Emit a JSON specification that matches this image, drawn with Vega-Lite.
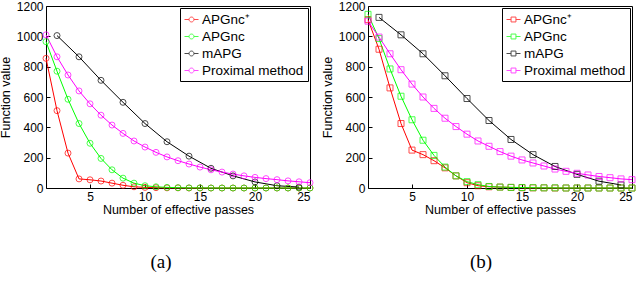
{
  "$schema": "https://vega.github.io/schema/vega-lite/v6.json",
  "autosize": {"type": "pad"},
  "padding": {"left": -2, "top": -1, "right": 0, "bottom": 0},
  "background": "white",
  "spacing": 58,
  "bounds": "flush",
  "config": {
    "view": {"stroke": "black", "strokeWidth": 1},
    "axis": {
      "labelFont": "Liberation Sans", "labelFontSize": 12, "labelColor": "black",
      "titleFont": "Liberation Sans", "titleFontSize": 12.5, "titleFontWeight": "normal", "titleColor": "black",
      "domain": false, "grid": false, "tickColor": "black", "tickSize": -4, "labelPadding": 7
    },
    "legend": {
      "orient": "top-right", "offset": 2, "strokeColor": "black", "fillColor": "white",
      "padding": 4, "labelFont": "Liberation Sans", "labelFontSize": 13.5, "labelColor": "black",
      "rowPadding": 3, "symbolSize": 196, "symbolStrokeWidth": 1, "labelOffset": 3, "title": null
    },
    "title": {"font": "Liberation Serif", "fontSize": 19, "fontWeight": "normal", "color": "black", "orient": "bottom", "offset": 37}
  },
  "datasets": {
    "a": [
      {"m": "APGnc⁺", "x": 1, "y": 855}, {"m": "APGnc⁺", "x": 2, "y": 510}, {"m": "APGnc⁺", "x": 3, "y": 230}, {"m": "APGnc⁺", "x": 4, "y": 60}, {"m": "APGnc⁺", "x": 5, "y": 54}, {"m": "APGnc⁺", "x": 6, "y": 46}, {"m": "APGnc⁺", "x": 7, "y": 32}, {"m": "APGnc⁺", "x": 8, "y": 18}, {"m": "APGnc⁺", "x": 9, "y": 8}, {"m": "APGnc⁺", "x": 10, "y": 4}, {"m": "APGnc⁺", "x": 11, "y": 2}, {"m": "APGnc⁺", "x": 12, "y": 1}, {"m": "APGnc⁺", "x": 13, "y": 1}, {"m": "APGnc⁺", "x": 14, "y": 0}, {"m": "APGnc⁺", "x": 15, "y": 0}, {"m": "APGnc⁺", "x": 16, "y": 0}, {"m": "APGnc⁺", "x": 17, "y": 0}, {"m": "APGnc⁺", "x": 18, "y": 0}, {"m": "APGnc⁺", "x": 19, "y": 0}, {"m": "APGnc⁺", "x": 20, "y": 0}, {"m": "APGnc⁺", "x": 21, "y": 0}, {"m": "APGnc⁺", "x": 22, "y": 0}, {"m": "APGnc⁺", "x": 23, "y": 0}, {"m": "APGnc⁺", "x": 24, "y": 0}, {"m": "APGnc⁺", "x": 25, "y": 0},
      {"m": "APGnc", "x": 1, "y": 965}, {"m": "APGnc", "x": 2, "y": 770}, {"m": "APGnc", "x": 3, "y": 585}, {"m": "APGnc", "x": 4, "y": 425}, {"m": "APGnc", "x": 5, "y": 295}, {"m": "APGnc", "x": 6, "y": 195}, {"m": "APGnc", "x": 7, "y": 120}, {"m": "APGnc", "x": 8, "y": 65}, {"m": "APGnc", "x": 9, "y": 32}, {"m": "APGnc", "x": 10, "y": 15}, {"m": "APGnc", "x": 11, "y": 8}, {"m": "APGnc", "x": 12, "y": 4}, {"m": "APGnc", "x": 13, "y": 2}, {"m": "APGnc", "x": 14, "y": 1}, {"m": "APGnc", "x": 15, "y": 1}, {"m": "APGnc", "x": 16, "y": 0}, {"m": "APGnc", "x": 17, "y": 0}, {"m": "APGnc", "x": 18, "y": 0}, {"m": "APGnc", "x": 19, "y": 0}, {"m": "APGnc", "x": 20, "y": 0}, {"m": "APGnc", "x": 21, "y": 0}, {"m": "APGnc", "x": 22, "y": 0}, {"m": "APGnc", "x": 23, "y": 0}, {"m": "APGnc", "x": 24, "y": 0}, {"m": "APGnc", "x": 25, "y": 0},
      {"m": "mAPG", "x": 2, "y": 1005}, {"m": "mAPG", "x": 4, "y": 865}, {"m": "mAPG", "x": 6, "y": 710}, {"m": "mAPG", "x": 8, "y": 565}, {"m": "mAPG", "x": 10, "y": 425}, {"m": "mAPG", "x": 12, "y": 305}, {"m": "mAPG", "x": 14, "y": 210}, {"m": "mAPG", "x": 16, "y": 130}, {"m": "mAPG", "x": 18, "y": 80}, {"m": "mAPG", "x": 20, "y": 40}, {"m": "mAPG", "x": 22, "y": 15}, {"m": "mAPG", "x": 24, "y": 6},
      {"m": "Proximal method", "x": 1, "y": 1010}, {"m": "Proximal method", "x": 2, "y": 865}, {"m": "Proximal method", "x": 3, "y": 745}, {"m": "Proximal method", "x": 4, "y": 640}, {"m": "Proximal method", "x": 5, "y": 555}, {"m": "Proximal method", "x": 6, "y": 480}, {"m": "Proximal method", "x": 7, "y": 415}, {"m": "Proximal method", "x": 8, "y": 360}, {"m": "Proximal method", "x": 9, "y": 310}, {"m": "Proximal method", "x": 10, "y": 270}, {"m": "Proximal method", "x": 11, "y": 235}, {"m": "Proximal method", "x": 12, "y": 205}, {"m": "Proximal method", "x": 13, "y": 180}, {"m": "Proximal method", "x": 14, "y": 158}, {"m": "Proximal method", "x": 15, "y": 138}, {"m": "Proximal method", "x": 16, "y": 120}, {"m": "Proximal method", "x": 17, "y": 105}, {"m": "Proximal method", "x": 18, "y": 92}, {"m": "Proximal method", "x": 19, "y": 80}, {"m": "Proximal method", "x": 20, "y": 70}, {"m": "Proximal method", "x": 21, "y": 62}, {"m": "Proximal method", "x": 22, "y": 55}, {"m": "Proximal method", "x": 23, "y": 47}, {"m": "Proximal method", "x": 24, "y": 41}, {"m": "Proximal method", "x": 25, "y": 35}
    ],
    "b": [
      {"m": "APGnc⁺", "x": 1, "y": 1110}, {"m": "APGnc⁺", "x": 2, "y": 915}, {"m": "APGnc⁺", "x": 3, "y": 660}, {"m": "APGnc⁺", "x": 4, "y": 425}, {"m": "APGnc⁺", "x": 5, "y": 250}, {"m": "APGnc⁺", "x": 6, "y": 220}, {"m": "APGnc⁺", "x": 7, "y": 180}, {"m": "APGnc⁺", "x": 8, "y": 133}, {"m": "APGnc⁺", "x": 9, "y": 80}, {"m": "APGnc⁺", "x": 10, "y": 35}, {"m": "APGnc⁺", "x": 11, "y": 15}, {"m": "APGnc⁺", "x": 12, "y": 8}, {"m": "APGnc⁺", "x": 13, "y": 6}, {"m": "APGnc⁺", "x": 14, "y": 4}, {"m": "APGnc⁺", "x": 15, "y": 2}, {"m": "APGnc⁺", "x": 16, "y": 1}, {"m": "APGnc⁺", "x": 17, "y": 1}, {"m": "APGnc⁺", "x": 18, "y": 0}, {"m": "APGnc⁺", "x": 19, "y": 0}, {"m": "APGnc⁺", "x": 20, "y": 0}, {"m": "APGnc⁺", "x": 21, "y": 0}, {"m": "APGnc⁺", "x": 22, "y": 0}, {"m": "APGnc⁺", "x": 23, "y": 0}, {"m": "APGnc⁺", "x": 24, "y": 0}, {"m": "APGnc⁺", "x": 25, "y": 0},
      {"m": "APGnc", "x": 1, "y": 1145}, {"m": "APGnc", "x": 2, "y": 985}, {"m": "APGnc", "x": 3, "y": 785}, {"m": "APGnc", "x": 4, "y": 605}, {"m": "APGnc", "x": 5, "y": 450}, {"m": "APGnc", "x": 6, "y": 315}, {"m": "APGnc", "x": 7, "y": 215}, {"m": "APGnc", "x": 8, "y": 138}, {"m": "APGnc", "x": 9, "y": 80}, {"m": "APGnc", "x": 10, "y": 42}, {"m": "APGnc", "x": 11, "y": 22}, {"m": "APGnc", "x": 12, "y": 10}, {"m": "APGnc", "x": 13, "y": 6}, {"m": "APGnc", "x": 14, "y": 4}, {"m": "APGnc", "x": 15, "y": 3}, {"m": "APGnc", "x": 16, "y": 2}, {"m": "APGnc", "x": 17, "y": 1}, {"m": "APGnc", "x": 18, "y": 1}, {"m": "APGnc", "x": 19, "y": 0}, {"m": "APGnc", "x": 20, "y": 0}, {"m": "APGnc", "x": 21, "y": 0}, {"m": "APGnc", "x": 22, "y": 0}, {"m": "APGnc", "x": 23, "y": 0}, {"m": "APGnc", "x": 24, "y": 0}, {"m": "APGnc", "x": 25, "y": 0},
      {"m": "mAPG", "x": 2, "y": 1125}, {"m": "mAPG", "x": 4, "y": 1010}, {"m": "mAPG", "x": 6, "y": 885}, {"m": "mAPG", "x": 8, "y": 740}, {"m": "mAPG", "x": 10, "y": 590}, {"m": "mAPG", "x": 12, "y": 445}, {"m": "mAPG", "x": 14, "y": 320}, {"m": "mAPG", "x": 16, "y": 220}, {"m": "mAPG", "x": 18, "y": 142}, {"m": "mAPG", "x": 20, "y": 90}, {"m": "mAPG", "x": 22, "y": 45}, {"m": "mAPG", "x": 24, "y": 20},
      {"m": "Proximal method", "x": 1, "y": 1100}, {"m": "Proximal method", "x": 2, "y": 995}, {"m": "Proximal method", "x": 3, "y": 885}, {"m": "Proximal method", "x": 4, "y": 780}, {"m": "Proximal method", "x": 5, "y": 685}, {"m": "Proximal method", "x": 6, "y": 600}, {"m": "Proximal method", "x": 7, "y": 525}, {"m": "Proximal method", "x": 8, "y": 460}, {"m": "Proximal method", "x": 9, "y": 405}, {"m": "Proximal method", "x": 10, "y": 355}, {"m": "Proximal method", "x": 11, "y": 310}, {"m": "Proximal method", "x": 12, "y": 275}, {"m": "Proximal method", "x": 13, "y": 240}, {"m": "Proximal method", "x": 14, "y": 210}, {"m": "Proximal method", "x": 15, "y": 185}, {"m": "Proximal method", "x": 16, "y": 165}, {"m": "Proximal method", "x": 17, "y": 145}, {"m": "Proximal method", "x": 18, "y": 125}, {"m": "Proximal method", "x": 19, "y": 110}, {"m": "Proximal method", "x": 20, "y": 97}, {"m": "Proximal method", "x": 21, "y": 86}, {"m": "Proximal method", "x": 22, "y": 76}, {"m": "Proximal method", "x": 23, "y": 68}, {"m": "Proximal method", "x": 24, "y": 60}, {"m": "Proximal method", "x": 25, "y": 55}
    ]
  },
  "resolve": {"scale": {"color": "independent"}, "legend": {"color": "independent"}},
  "hconcat": [
    {
      "width": 264, "height": 182,
      "title": {"text": "(a)", "dx": -17},
      "data": {"name": "a"},
      "encoding": {
        "x": {"field": "x", "type": "quantitative", "scale": {"domain": [1, 25], "nice": false, "zero": false},
              "axis": {"values": [5, 10, 15, 20, 25], "title": "Number of effective passes", "titlePadding": 1}},
        "y": {"field": "y", "type": "quantitative", "scale": {"domain": [0, 1200], "nice": false},
              "axis": {"values": [0, 200, 400, 600, 800, 1000, 1200], "format": "d", "title": "Function value", "titlePadding": 4}},
        "color": {"field": "m", "type": "nominal",
                  "scale": {"domain": ["APGnc⁺", "APGnc", "mAPG", "Proximal method"], "range": ["#ff0000", "#00ff00", "#000000", "#ff00ff"]},
                  "legend": {"symbolType": "M-1,0H-0.35M0.35,0H1M0.35,0A0.35,0.35 0 1 1 -0.35,0A0.35,0.35 0 1 1 0.35,0"}}
      },
      "layer": [
        {"mark": {"type": "line", "strokeWidth": 1}},
        {"mark": {"type": "point", "shape": "circle", "filled": false, "size": 36, "strokeWidth": 1}}
      ]
    },
    {
      "width": 264, "height": 182,
      "title": {"text": "(b)", "dx": -19},
      "data": {"name": "b"},
      "encoding": {
        "x": {"field": "x", "type": "quantitative", "scale": {"domain": [1, 25], "nice": false, "zero": false},
              "axis": {"values": [5, 10, 15, 20, 25], "title": "Number of effective passes", "titlePadding": 1}},
        "y": {"field": "y", "type": "quantitative", "scale": {"domain": [0, 1200], "nice": false},
              "axis": {"values": [0, 200, 400, 600, 800, 1000, 1200], "format": "d", "title": "Function value", "titlePadding": 4}},
        "color": {"field": "m", "type": "nominal",
                  "scale": {"domain": ["APGnc⁺", "APGnc", "mAPG", "Proximal method"], "range": ["#ff0000", "#00ff00", "#000000", "#ff00ff"]},
                  "legend": {"symbolType": "M-1,0H-0.35M0.35,0H1M-0.35,-0.35H0.35V0.35H-0.35Z"}}
      },
      "layer": [
        {"mark": {"type": "line", "strokeWidth": 1}},
        {"mark": {"type": "point", "shape": "square", "filled": false, "size": 36, "strokeWidth": 1}}
      ]
    }
  ]
}
